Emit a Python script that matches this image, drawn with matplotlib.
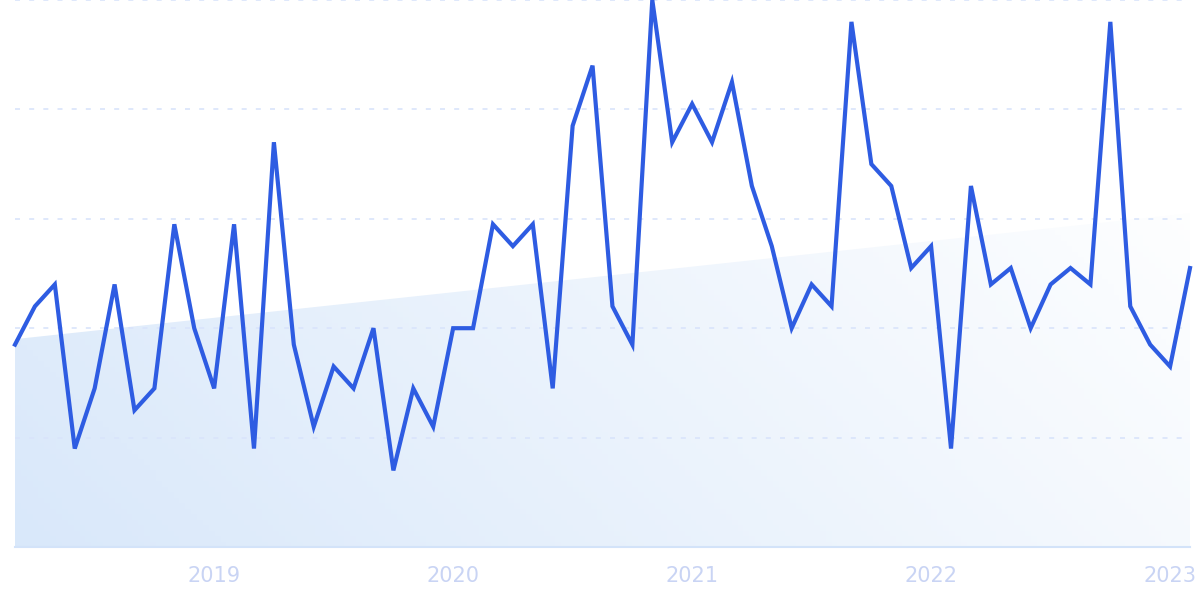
import numpy as np
import pandas as pd
import matplotlib
matplotlib.use("Agg")
import matplotlib.pyplot as plt
from matplotlib.colors import LinearSegmentedColormap
from matplotlib.patches import Polygon

# monthly interest values, Mar 2018 - Feb 2023
start_month = "2018-03"
values = [37, 44, 48, 18, 29, 48, 25, 29, 59, 40, 29, 59, 18, 74, 37, 22,
          33, 29, 40, 14, 29, 22, 40, 40, 59, 55, 59, 29, 77, 88, 44, 37,
          100, 74, 81, 74, 85, 66, 55, 40, 48, 44, 96, 70, 66, 51, 55, 18,
          66, 48, 51, 40, 48, 51, 48, 96, 44, 37, 33, 51]
# trend line ends (as shown in the chart)
trend_start, trend_end = 38, 61
tick_years = ["2019", "2020", "2021", "2022", "2023"]
grid_levels = [20, 40, 60, 80, 100]

dates = pd.date_range(start_month, periods=len(values), freq="MS")
x = np.arange(len(values))
y = np.array(values, dtype=float)
trend = np.linspace(trend_start, trend_end, len(values))

fig = plt.figure(figsize=(12, 5.99), dpi=100)
ax = fig.add_axes([15 / 1200, 52 / 599, 1175 / 1200, 547 / 599])
ax.set_xlim(x[0], x[-1])
ax.set_ylim(0, 100)

# gradient fill under the trend line
cmap = LinearSegmentedColormap.from_list("fade", ["#d9e8fa", "#ffffff"])
gx, gy = np.meshgrid(np.linspace(0, 1, 200), np.linspace(0, 1, 100))
grad = gx * 0.75 + gy * 0.35
img = ax.imshow(grad, extent=[x[0], x[-1], 0, 100], origin="lower",
                aspect="auto", cmap=cmap, vmin=0, vmax=1.0, zorder=0)
poly = Polygon(np.column_stack([np.r_[x, x[::-1]], np.r_[trend, np.zeros_like(trend)]]),
               closed=True, facecolor="none", edgecolor="none")
ax.add_patch(poly)
img.set_clip_path(poly)

for g in grid_levels:
    ax.axhline(g, color="#d9e4fb", lw=1.2, dashes=(3, 5.5), zorder=1)

ax.plot(x, y, color="#2e5ce2", lw=3, solid_joinstyle="miter", zorder=3, clip_on=False)

for s in ["top", "right", "left"]:
    ax.spines[s].set_visible(False)
ax.spines["bottom"].set_color("#d3e3f9")
ax.spines["bottom"].set_linewidth(1.5)

tick_pos = [i for i, d in enumerate(dates) if d.month == 1]
ax.set_xticks(tick_pos)
ax.set_xticklabels(tick_years[:len(tick_pos)])
ax.tick_params(axis="x", length=0, pad=14, labelsize=15, labelcolor="#c9d4f4")
ax.set_yticks([])

fig.savefig("out.png", dpi=100)
